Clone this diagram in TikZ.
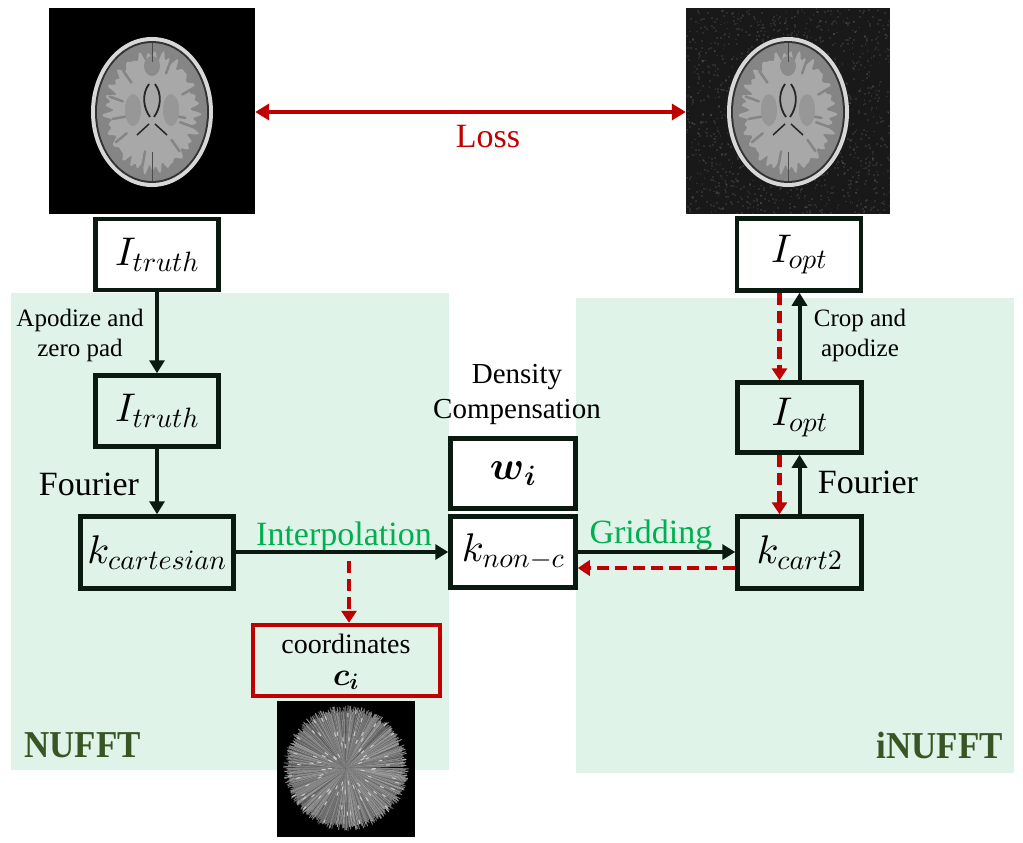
\documentclass[tikz,border=0pt]{standalone}
\usepackage{amsmath}
\usepackage{fontspec}
\setmainfont{Liberation Serif}
\usepackage{graphicx}
\DeclareFontShape{OML}{cmm}{m}{it}{<->cmmi10}{}
\DeclareFontShape{OML}{cmm}{b}{it}{<->cmmib10}{}
\DeclareFontShape{OMS}{cmsy}{m}{n}{<->cmsy10}{}
\DeclareFontShape{OMS}{cmsy}{b}{n}{<->cmbsy10}{}
\DeclareFontShape{OT1}{cmr}{m}{n}{<->cmr10}{}
\DeclareFontShape{OT1}{cmr}{bx}{n}{<->cmbx10}{}
\DeclareFontShape{OMX}{cmex}{m}{n}{<->cmex10}{}
\usetikzlibrary{arrows.meta}
\definecolor{panel}{HTML}{DFF3E8}
\definecolor{boxline}{HTML}{0A1A10}
\definecolor{lossred}{HTML}{C00000}
\definecolor{txtgreen}{HTML}{00B050}
\definecolor{labgreen}{HTML}{375623}
\definecolor{skull}{HTML}{D8D8D8}
\definecolor{tissue}{HTML}{858585}
\definecolor{wmatter}{HTML}{A8A8A8}
\newcommand\fs[1]{\fontsize{#1}{#1}\selectfont}
\newcommand\drawbrain{%
  \fill[skull] (0,0) ellipse [x radius=61pt, y radius=75pt];
  \fill[black!80] (0,0) ellipse [x radius=57pt, y radius=71pt];
  \fill[tissue] (0,0) ellipse [x radius=55pt, y radius=69pt];
  \fill[wmatter] plot[smooth cycle, samples=180, domain=0:358] ({(44+2.5*sin(23*\x)+2.5*sin(37*\x+40)+1.5*sin(41*\x))*cos(\x)}, {(57+2.5*sin(23*\x)+2.5*sin(37*\x+40)+1.5*sin(41*\x))*sin(\x)});
  \foreach \ang/\rr in {20/30, 55/34, 100/40, 140/33, 200/31, 235/36, 290/41, 330/35, 170/26, 10/20}
    {\draw[tissue, line width=2.5pt, line cap=round] (\ang:\rr) -- (\ang:\rr+14);}
  \fill[tissue!95] (0,-46) ellipse [x radius=8pt, y radius=10pt];
  \fill[tissue!85!white] (-19,-2) ellipse [x radius=8pt, y radius=16pt];
  \fill[tissue!85!white] (19,-2) ellipse [x radius=8pt, y radius=16pt];
  \draw[black!70, line width=1pt] (0,-69) -- (0,-50) (0,40) -- (0,69);
  \draw[black!85, line width=1.8pt] (-3,-28) .. controls (-11,-17) and (-8,-3) .. (-2,5);
  \draw[black!85, line width=1.8pt] (3,-28) .. controls (11,-17) and (8,-3) .. (2,5);
  \draw[black!85, line width=1.5pt] (-3,12) -- (-15,23) (3,12) -- (15,23);
}
\begin{document}
\begin{tikzpicture}[x=1pt, y=-1pt,
  mbox/.style={draw=boxline, line width=4.5pt, inner sep=0pt, font=\fs{40}},
  arr/.style={draw=boxline, line width=4pt, -{Triangle[length=13pt, width=15pt]}},
  rdash/.style={draw=lossred, line width=4.5pt, dash pattern=on 12pt off 6pt, -{Triangle[length=12pt, width=15pt]}},
  lossarr/.style={draw=lossred, line width=4pt, {Triangle[length=14pt, width=16pt]}-{Triangle[length=14pt, width=16pt]}},
  lbl/.style={anchor=base, inner sep=0pt},
  imgbox/.style={fill=black, inner sep=0pt, draw=none}]
\useasboundingbox (0,0) rectangle (1023,843);
\fill[white] (0,0) rectangle (1023,843);
% panels
\fill[panel] (11,293) rectangle (449,770);
\fill[panel] (576,298) rectangle (1014,773);

% images
\node[imgbox, minimum width=206pt, minimum height=206pt] (brainL) at (152,111) {};
\node[imgbox, fill=black!90, minimum width=204pt, minimum height=206pt] (brainR) at (788,111) {};
\begin{scope}
  \clip (brainR.south west) rectangle (brainR.north east);
  \pgfmathsetseed{7}
  \foreach \i in {1,...,1400} {
    \pgfmathsetmacro\px{686+204*rnd}
    \pgfmathsetmacro\py{8+206*rnd}
    \fill[white, opacity=0.09] (\px,\py) rectangle ++(1.8,1.8);
  }
\end{scope}
\begin{scope}[shift={(152,112)}]\drawbrain\end{scope}
\begin{scope}[shift={(788,112)}]\drawbrain\end{scope}

\node[imgbox, minimum width=138pt, minimum height=136pt] (star) at (346,769) {};
\begin{scope}[shift={(346,768)}]
  \clip (-69,-68) rectangle (69,68);
  \pgfmathsetseed{3}
  \foreach \a in {0,0.8,...,359.2} {
    \pgfmathsetmacro\r{56+7*rnd}
    \pgfmathsetmacro\g{35+30*rnd}
    \draw[white!\g!black, line width=0.9pt] (0,0) -- (\a:\r);
  }
  \foreach \a in {0,4,...,356} {
    \pgfmathsetmacro\r{12+45*rnd}
    \draw[white!80!black, line width=1pt] (\a:\r) -- (\a:\r+4);
  }
\end{scope}

% boxes
\node[mbox, fill=white, minimum width=123pt, minimum height=71pt] (tT) at (157,254.5) {$I_{truth}$};
\node[mbox, minimum width=123pt, minimum height=71pt] (tT2) at (157,411) {$I_{truth}$};
\node[mbox, minimum width=153pt, minimum height=72pt] (kc) at (157,552.5) {$k_{cartesian}$};
\node[mbox, fill=white, minimum width=125pt, minimum height=70pt] (wi) at (513,473.5) {$\boldsymbol{w}_{\boldsymbol{i}}$};
\node[mbox, fill=white, minimum width=125pt, minimum height=71pt] (knc) at (513,552) {$k_{non-c}$};
\node[mbox, minimum width=124pt, minimum height=72pt] (kc2) at (799.5,552.5) {$k_{cart2}$};
\node[mbox, minimum width=124pt, minimum height=70pt] (Io2) at (799.5,417.5) {$I_{opt}$};
\node[mbox, fill=white, minimum width=124pt, minimum height=72pt] (Io) at (799,254.5) {$I_{opt}$};
\node[draw=lossred, line width=4.5pt, inner sep=0pt, minimum width=187pt, minimum height=71pt] (coord) at (346.5,660.5) {};

% texts
\node[lbl, font=\fs{34}, text=lossred] (loss) at (488,147) {Loss};
\node[lbl, font=\fs{25}] (apo1) at (80,326) {Apodize and};
\node[lbl, font=\fs{25}] (apo2) at (80,356) {zero pad};
\node[lbl, font=\fs{34}] (four1) at (89,495) {Fourier};
\node[lbl, font=\fs{34}, text=txtgreen] (interp) at (344,545) {Interpolation};
\node[lbl, font=\fs{34}, text=txtgreen] (grid) at (651,543) {Gridding};
\node[lbl, font=\fs{29}] (dens1) at (517,383) {Density};
\node[lbl, font=\fs{29}] (dens2) at (517,418) {Compensation};
\node[lbl, font=\fs{25}] (crop1) at (860,326) {Crop and};
\node[lbl, font=\fs{25}] (crop2) at (860,356) {apodize};
\node[lbl, font=\fs{34}] (four2) at (868,493) {Fourier};
\node[lbl, font=\fs{28}] (coordt) at (346,653) {coordinates};
\node[lbl, font=\fs{32}] (ci) at (346,685) {$\boldsymbol{c}_{\boldsymbol{i}}$};
\node[anchor=base west, inner sep=0pt, font=\fs{38}\bfseries, text=labgreen] (nufft) at (24,757) {\scalebox{0.92}[1]{NUFFT}};
\node[anchor=base east, inner sep=0pt, font=\fs{38}\bfseries, text=labgreen] (inufft) at (1003,758) {\scalebox{0.92}[1]{iNUFFT}};

% connectors
\draw[lossarr] (brainL.east |- 0,112) -- (brainR.west |- 0,112);
\draw[arr] (tT.south) -- (tT2.north);
\draw[arr] (tT2.south) -- (kc.north);
\draw[arr] (kc.east |- 0,552) -- (knc.west |- 0,552);
\coordinate (ip) at (349,561);
\draw[rdash] (ip) -- (ip |- coord.north);
\draw[arr] (knc.east |- 0,552) -- (kc2.west |- 0,552);
\draw[rdash] (kc2.west |- 0,568) -- (knc.east |- 0,568);
\draw[arr] (kc2.north) -- (Io2.south);
\draw[arr] (Io2.north) -- (Io2.north |- Io.south);
\draw[rdash] (779.5,0 |- Io.south) -- (779.5,0 |- Io2.north);
\draw[rdash] (779.5,0 |- Io2.south) -- (779.5,0 |- kc2.north);
\end{tikzpicture}
\end{document}
